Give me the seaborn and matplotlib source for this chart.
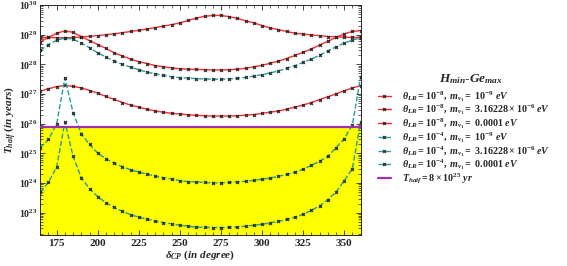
import matplotlib
matplotlib.use("Agg")
import matplotlib.pyplot as plt
import numpy as np
import seaborn as sns
from matplotlib.ticker import FixedLocator, LogLocator, MultipleLocator, NullFormatter

# delta_CP grid (degrees)
delta_cp = [165, 170, 175, 180, 185, 190, 195, 200, 205, 210,
            215, 220, 225, 230, 235, 240, 245, 250, 255, 260,
            265, 270, 275, 280, 285, 290, 295, 300, 305, 310,
            315, 320, 325, 330, 335, 340, 345, 350, 355, 360]

# theta_LR = 1e-8
t_lr8_m9 = [8.1e28, 8.1e28, 7.9e28, 7.9e28, 8.1e28, 8.3e28, 8.9e28, 9.3e28, 1.0e29, 1.07e29,
            1.17e29, 1.29e29, 1.41e29, 1.55e29, 1.74e29, 1.95e29, 2.19e29, 2.51e29, 3.02e29, 3.63e29,
            4.17e29, 4.47e29, 4.47e29, 4.07e29, 3.55e29, 2.95e29, 2.51e29, 2.04e29, 1.70e29, 1.48e29,
            1.29e29, 1.12e29, 1.05e29, 9.8e28, 9.3e28, 8.7e28, 8.5e28, 8.3e28, 8.1e28, 8.1e28]
t_lr8_m6 = [5.75e28, 8.1e28, 1.12e29, 1.35e29, 1.20e29, 8.7e28, 6.3e28, 4.68e28, 3.47e28, 2.45e28,
            1.91e28, 1.51e28, 1.23e28, 1.07e28, 9.1e27, 8.3e27, 7.6e27, 7.1e27, 6.9e27, 6.8e27,
            6.6e27, 6.5e27, 6.5e27, 6.6e27, 6.9e27, 7.4e27, 8.3e27, 9.3e27, 1.10e28, 1.29e28,
            1.58e28, 2.0e28, 2.57e28, 3.31e28, 4.47e28, 6.0e28, 8.1e28, 1.07e29, 1.29e29, 1.38e29]
t_lr8_m4 = [1.26e27, 1.51e27, 1.78e27, 1.95e27, 1.82e27, 1.62e27, 1.32e27, 1.07e27, 8.3e26, 6.6e26,
            5.2e26, 4.27e26, 3.63e26, 3.09e26, 2.69e26, 2.45e26, 2.24e26, 2.14e26, 2.0e26, 1.91e26,
            1.86e26, 1.82e26, 1.82e26, 1.82e26, 1.86e26, 1.95e26, 2.04e26, 2.24e26, 2.45e26, 2.69e26,
            3.09e26, 3.63e26, 4.27e26, 5.2e26, 6.5e26, 8.1e26, 1.02e27, 1.29e27, 1.62e27, 1.91e27]

# theta_LR = 1e-4
t_lr4_m9 = [2.95e28, 4.68e28, 6.5e28, 7.8e28, 7.1e28, 5.2e28, 3.63e28, 2.45e28, 1.78e28, 1.29e28,
            1.0e28, 8.1e27, 6.6e27, 5.5e27, 4.8e27, 4.3e27, 3.8e27, 3.55e27, 3.47e27, 3.3e27,
            3.24e27, 3.16e27, 3.16e27, 3.24e27, 3.39e27, 3.63e27, 4.07e27, 4.47e27, 5.2e27, 6.0e27,
            7.4e27, 9.1e27, 1.17e28, 1.51e28, 2.04e28, 2.88e28, 3.89e28, 5.2e28, 6.6e28, 7.8e28]
t_lr4_m6 = [1.55e25, 2.95e25, 1.0e26, 3.47e27, 2.34e26, 4.57e25, 2.0e25, 1.02e25, 6.6e24, 4.68e24,
            3.55e24, 2.82e24, 2.34e24, 2.0e24, 1.74e24, 1.51e24, 1.38e24, 1.20e24, 1.12e24, 1.10e24,
            1.05e24, 1.02e24, 1.02e24, 1.05e24, 1.10e24, 1.15e24, 1.23e24, 1.35e24, 1.48e24, 1.70e24,
            1.95e24, 2.34e24, 2.95e24, 3.98e24, 5.5e24, 7.9e24, 1.55e25, 3.09e25, 9.1e25, 3.8e27]
t_lr4_m4 = [5.0e23, 1.07e24, 3.47e24, 1.15e26, 7.9e24, 1.51e24, 6.5e23, 3.47e23, 2.19e23, 1.51e23,
            1.12e23, 8.7e22, 7.1e22, 6.2e22, 5.2e22, 4.7e22, 4.2e22, 3.8e22, 3.55e22, 3.3e22,
            3.24e22, 3.16e22, 3.16e22, 3.24e22, 3.3e22, 3.55e22, 3.8e22, 4.07e22, 4.57e22, 5.1e22,
            6.0e22, 7.1e22, 8.9e22, 1.20e23, 1.70e23, 2.75e23, 5.0e23, 1.20e24, 3.09e24, 1.12e26]

t_limit = 8e25
y_ticks = [1e23, 1e24, 1e25, 1e26, 1e27, 1e28, 1e29, 1e30]

labels = [
    r"$\theta_{LR} = 10^{-8},\ m_{\nu_1} =\ 10^{-9}\ eV$",
    r"$\theta_{LR} = 10^{-8},\ m_{\nu_1} =\ 3.16228 \times 10^{-6}\ eV$",
    r"$\theta_{LR} = 10^{-8},\ m_{\nu_1} =\ 0.0001\ eV$",
    r"$\theta_{LR} = 10^{-4},\ m_{\nu_1} =\ 10^{-9}\ eV$",
    r"$\theta_{LR} = 10^{-4},\ m_{\nu_1} =\ 3.16228 \times 10^{-6}\ eV$",
    r"$\theta_{LR} = 10^{-4},\ m_{\nu_1} =\ 0.0001\ eV$",
]
series = [t_lr8_m9, t_lr8_m6, t_lr8_m4, t_lr4_m9, t_lr4_m6, t_lr4_m4]

sns.set_style("ticks")
plt.rcParams.update({
    "font.family": ["Liberation Serif", "DejaVu Serif"],
    "font.weight": "bold",
    "mathtext.fontset": "custom",
    "mathtext.rm": "Liberation Serif:bold",
    "mathtext.it": "Liberation Serif:italic:bold",
    "mathtext.bf": "Liberation Serif:bold",
    "xtick.direction": "in",
    "ytick.direction": "in",
    "axes.linewidth": 0.7,
})

fig = plt.figure(figsize=(5.67, 2.66), dpi=100)
ax = fig.add_axes([0.071, 0.117, 0.565, 0.864])

y_bottom = 1.8e22
ax.fill_between(delta_cp, y_bottom, t_limit, color="#ffff00", zorder=0, lw=0)

red = "#ff2a2a"
teal = "#1fa0a0"
for i, (vals, lab) in enumerate(zip(series, labels)):
    col = red if i < 3 else teal
    ls = "-" if i < 3 else "--"
    sns.lineplot(x=delta_cp, y=vals, ax=ax, color=col, linestyle=ls, lw=1.0,
                 marker="X", markersize=2.4, markerfacecolor="#222222",
                 markeredgecolor="#222222", markeredgewidth=0.2, label=lab)

ax.axhline(t_limit, color="#a030b0", lw=1.6, label=r"$T_{half} = 8 \times 10^{25}\ yr$", zorder=3)

ax.set_yscale("log")
ax.set_xlim(165, 360)
ax.set_ylim(y_bottom, 1e30)
ax.xaxis.set_major_locator(MultipleLocator(25))
ax.xaxis.set_minor_locator(MultipleLocator(5))
ax.yaxis.set_major_locator(FixedLocator(y_ticks))
ax.yaxis.set_minor_locator(LogLocator(base=10, subs=np.arange(2, 10), numticks=20))
ax.yaxis.set_minor_formatter(NullFormatter())
ax.tick_params(which="both", top=True, right=True)
ax.tick_params(axis="x", labelsize=8, pad=3)
ax.tick_params(axis="y", labelsize=7, pad=2)
ax.tick_params(which="major", length=3.5, width=0.6)
ax.tick_params(which="minor", length=2, width=0.5)
for t in ax.get_xticklabels():
    t.set_fontweight("bold")

ax.set_xlabel(r"$\delta_{CP}\ (in\ degree)$", fontsize=8, labelpad=0)
ax.set_ylabel(r"$T_{half}\ (in\ years)$", fontsize=8, labelpad=1)

fig.text(0.83, 1 - 79 / 266, r"$H_{min}$-$Ge_{max}$", fontsize=9.5,
         ha="center", va="center")
ax.legend(loc="center left", bbox_to_anchor=(1.035, 0.425), frameon=False,
          fontsize=7.2, handlelength=1.3, labelspacing=-0.12, handletextpad=1.1,
          borderaxespad=0.2)

fig.savefig("out.png", dpi=100)
